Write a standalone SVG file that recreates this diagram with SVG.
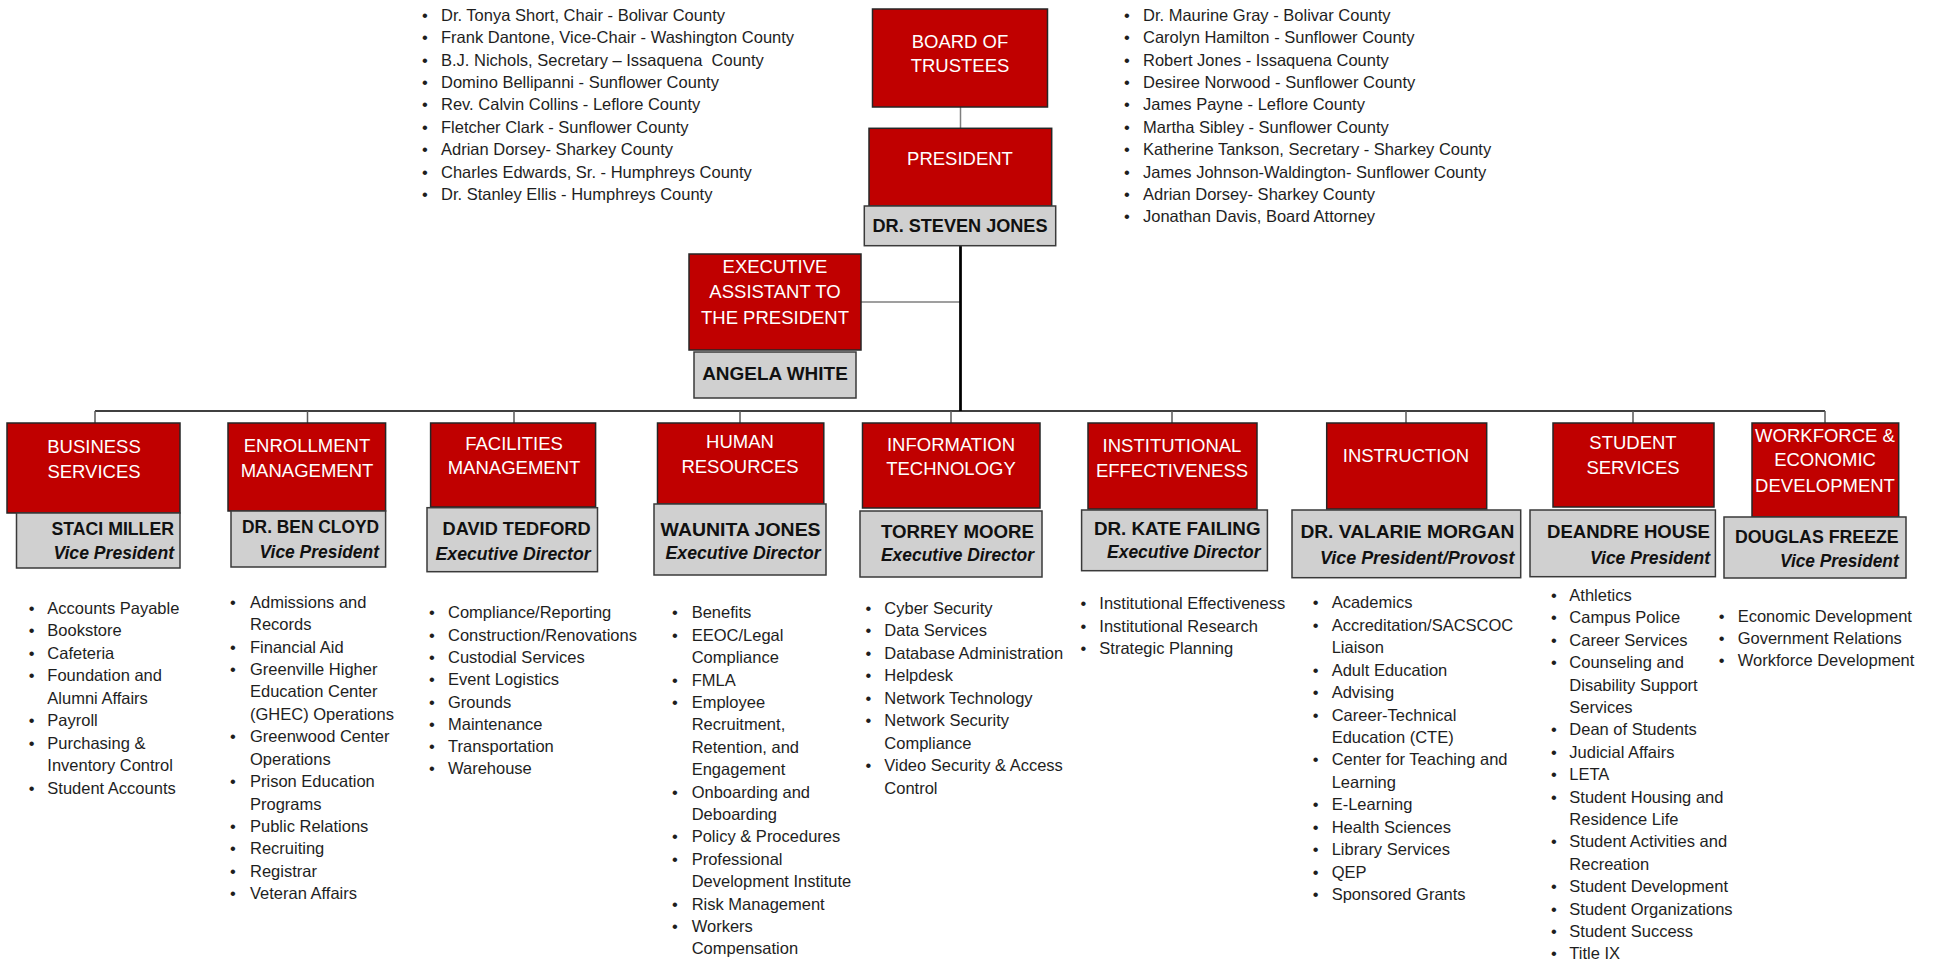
<svg xmlns="http://www.w3.org/2000/svg" width="1948" height="960" viewBox="0 0 1948 960">
<style>
.red{fill:#C00000;stroke:#262626;stroke-width:1.5}
.gray{fill:#D0D0D0;stroke:#3a3a3a;stroke-width:1.5}
.t{font-family:"Liberation Sans",Arial,sans-serif;font-size:18.5px;fill:#FFFFFF;text-anchor:middle}
.n{font-family:"Liberation Sans",Arial,sans-serif;font-size:18px;font-weight:bold;fill:#111111;text-anchor:end}
.nc{font-family:"Liberation Sans",Arial,sans-serif;font-size:18px;font-weight:bold;fill:#111111;text-anchor:middle}
.r{font-family:"Liberation Sans",Arial,sans-serif;font-size:17.5px;font-weight:bold;font-style:italic;fill:#111111;text-anchor:end}
.l{font-family:"Liberation Sans",Arial,sans-serif;font-size:16.5px;fill:#1e1e1e}
.b{font-family:"Liberation Sans",Arial,sans-serif;font-size:16.5px;fill:#1e1e1e;text-anchor:middle}
.c1{fill:none;stroke:#7f7f7f;stroke-width:1.5}
.c2{fill:none;stroke:#000000;stroke-width:2.75}
.c3{fill:none;stroke:#404040;stroke-width:2}
.c4{fill:none;stroke:#595959;stroke-width:1.5}
</style>
<rect width="1948" height="960" fill="#FFFFFF"/>
<g id="connectors">
<path class="c1" d="M960.5 107 V128.3"/>
<path class="c1" d="M861 302 H960.5"/>
<path class="c3" d="M95 411 H1825"/>
<path class="c2" d="M960.5 245.7 V411"/>
<path class="c4" d="M95 411 V423 M307.5 411 V423 M514 411 V423 M740 411 V423 M951 411 V423 M1172 411 V423 M1406 411 V423 M1633 411 V423 M1825 411 V423"/>
</g>
<g id="board-members-left">
<text class="b"><tspan x="425" y="21">•</tspan><tspan x="425" y="43.4">•</tspan><tspan x="425" y="65.7">•</tspan><tspan x="425" y="88">•</tspan><tspan x="425" y="110.4">•</tspan><tspan x="425" y="132.8">•</tspan><tspan x="425" y="155.1">•</tspan><tspan x="425" y="177.5">•</tspan><tspan x="425" y="199.8">•</tspan></text>
<text class="l"><tspan x="441" y="21">Dr. Tonya Short, Chair - Bolivar County</tspan><tspan x="441" y="43.4">Frank Dantone, Vice-Chair - Washington County</tspan><tspan x="441" y="65.7">B.J. Nichols, Secretary – Issaquena&#160; County</tspan><tspan x="441" y="88">Domino Bellipanni - Sunflower County</tspan><tspan x="441" y="110.4">Rev. Calvin Collins - Leflore County</tspan><tspan x="441" y="132.8">Fletcher Clark - Sunflower County</tspan><tspan x="441" y="155.1">Adrian Dorsey- Sharkey County</tspan><tspan x="441" y="177.5">Charles Edwards, Sr. - Humphreys County</tspan><tspan x="441" y="199.8">Dr. Stanley Ellis - Humphreys County</tspan></text>
</g>
<g id="board-members-right">
<text class="b"><tspan x="1127" y="21">•</tspan><tspan x="1127" y="43.4">•</tspan><tspan x="1127" y="65.7">•</tspan><tspan x="1127" y="88">•</tspan><tspan x="1127" y="110.4">•</tspan><tspan x="1127" y="132.8">•</tspan><tspan x="1127" y="155.1">•</tspan><tspan x="1127" y="177.5">•</tspan><tspan x="1127" y="199.8">•</tspan><tspan x="1127" y="222.2">•</tspan></text>
<text class="l"><tspan x="1143" y="21">Dr. Maurine Gray - Bolivar County</tspan><tspan x="1143" y="43.4">Carolyn Hamilton - Sunflower County</tspan><tspan x="1143" y="65.7">Robert Jones - Issaquena County</tspan><tspan x="1143" y="88">Desiree Norwood - Sunflower County</tspan><tspan x="1143" y="110.4">James Payne - Leflore County</tspan><tspan x="1143" y="132.8">Martha Sibley - Sunflower County</tspan><tspan x="1143" y="155.1">Katherine Tankson, Secretary - Sharkey County</tspan><tspan x="1143" y="177.5">James Johnson-Waldington- Sunflower County</tspan><tspan x="1143" y="199.8">Adrian Dorsey- Sharkey County</tspan><tspan x="1143" y="222.2">Jonathan Davis, Board Attorney</tspan></text>
</g>
<g id="board">
<rect class="red" x="872.5" y="9" width="175" height="98"/>
<text class="t" x="960" y="47.5">BOARD OF</text>
<text class="t" x="960" y="71.5">TRUSTEES</text>
</g>
<g id="president">
<rect class="red" x="869" y="128.3" width="182.7" height="77.7"/>
<text class="t" x="960" y="164.5">PRESIDENT</text>
<rect class="gray" x="864.3" y="206" width="191.4" height="39.7"/>
<text class="nc" x="960" y="231.8" textLength="175" lengthAdjust="spacingAndGlyphs">DR. STEVEN JONES</text>
</g>
<g id="executive-assistant">
<rect class="red" x="689" y="254" width="172" height="96"/>
<text class="t" x="775" y="273.2">EXECUTIVE</text>
<text class="t" x="775" y="298.2">ASSISTANT TO</text>
<text class="t" x="775" y="324.2">THE PRESIDENT</text>
<rect class="gray" x="694" y="352" width="162" height="46"/>
<text class="nc" x="775" y="379.8" textLength="145.6" lengthAdjust="spacingAndGlyphs">ANGELA WHITE</text>
</g>
<g id="business-services">
<rect class="red" x="7" y="423" width="173" height="90"/>
<text class="t" x="94" y="453">BUSINESS</text>
<text class="t" x="94" y="477.5">SERVICES</text>
<rect class="gray" x="16.5" y="513" width="163.5" height="55"/>
<text class="n" x="174" y="534.5" textLength="122.5" lengthAdjust="spacingAndGlyphs">STACI MILLER</text>
<text class="r" x="174" y="558.7" textLength="120.6" lengthAdjust="spacingAndGlyphs">Vice President</text>
<text class="b"><tspan x="31.7" y="613.7">•</tspan><tspan x="31.7" y="636.2">•</tspan><tspan x="31.7" y="658.7">•</tspan><tspan x="31.7" y="681.2">•</tspan><tspan x="31.7" y="726.2">•</tspan><tspan x="31.7" y="748.7">•</tspan><tspan x="31.7" y="793.7">•</tspan></text>
<text class="l"><tspan x="47.3" y="613.7">Accounts Payable</tspan><tspan x="47.3" y="636.2">Bookstore</tspan><tspan x="47.3" y="658.7">Cafeteria</tspan><tspan x="47.3" y="681.2">Foundation and</tspan><tspan x="47.3" y="703.7">Alumni Affairs</tspan><tspan x="47.3" y="726.2">Payroll</tspan><tspan x="47.3" y="748.7">Purchasing &amp;</tspan><tspan x="47.3" y="771.2">Inventory Control</tspan><tspan x="47.3" y="793.7">Student Accounts</tspan></text>
</g>
<g id="enrollment-management">
<rect class="red" x="228" y="423" width="157.6" height="88"/>
<text class="t" x="307" y="452.2">ENROLLMENT</text>
<text class="t" x="307" y="476.5">MANAGEMENT</text>
<rect class="gray" x="231" y="511" width="154.6" height="56"/>
<text class="n" x="379" y="533.2" textLength="136.9" lengthAdjust="spacingAndGlyphs">DR. BEN CLOYD</text>
<text class="r" x="379" y="557.9" textLength="119.4" lengthAdjust="spacingAndGlyphs">Vice President</text>
<text class="b"><tspan x="233" y="607.7">•</tspan><tspan x="233" y="652.6">•</tspan><tspan x="233" y="675">•</tspan><tspan x="233" y="742.3">•</tspan><tspan x="233" y="787.1">•</tspan><tspan x="233" y="832">•</tspan><tspan x="233" y="854.4">•</tspan><tspan x="233" y="876.9">•</tspan><tspan x="233" y="899.3">•</tspan></text>
<text class="l"><tspan x="250" y="607.7">Admissions and</tspan><tspan x="250" y="630.1">Records</tspan><tspan x="250" y="652.6">Financial Aid</tspan><tspan x="250" y="675">Greenville Higher</tspan><tspan x="250" y="697.4">Education Center</tspan><tspan x="250" y="719.9">(GHEC) Operations</tspan><tspan x="250" y="742.3">Greenwood Center</tspan><tspan x="250" y="764.7">Operations</tspan><tspan x="250" y="787.1">Prison Education</tspan><tspan x="250" y="809.6">Programs</tspan><tspan x="250" y="832">Public Relations</tspan><tspan x="250" y="854.4">Recruiting</tspan><tspan x="250" y="876.9">Registrar</tspan><tspan x="250" y="899.3">Veteran Affairs</tspan></text>
</g>
<g id="facilities-management">
<rect class="red" x="430.6" y="423" width="165" height="84"/>
<text class="t" x="514" y="449.5">FACILITIES</text>
<text class="t" x="514" y="473.5">MANAGEMENT</text>
<rect class="gray" x="427" y="507.7" width="170.5" height="64"/>
<text class="n" x="590.6" y="534.5" textLength="148" lengthAdjust="spacingAndGlyphs">DAVID TEDFORD</text>
<text class="r" x="590.6" y="560.2" textLength="155" lengthAdjust="spacingAndGlyphs">Executive Director</text>
<text class="b"><tspan x="432" y="618.3">•</tspan><tspan x="432" y="640.6">•</tspan><tspan x="432" y="662.9">•</tspan><tspan x="432" y="685.2">•</tspan><tspan x="432" y="707.5">•</tspan><tspan x="432" y="729.8">•</tspan><tspan x="432" y="752.1">•</tspan><tspan x="432" y="774.4">•</tspan></text>
<text class="l"><tspan x="448" y="618.3">Compliance/Reporting</tspan><tspan x="448" y="640.6">Construction/Renovations</tspan><tspan x="448" y="662.9">Custodial Services</tspan><tspan x="448" y="685.2">Event Logistics</tspan><tspan x="448" y="707.5">Grounds</tspan><tspan x="448" y="729.8">Maintenance</tspan><tspan x="448" y="752.1">Transportation</tspan><tspan x="448" y="774.4">Warehouse</tspan></text>
</g>
<g id="human-resources">
<rect class="red" x="657.5" y="423" width="166.3" height="81"/>
<text class="t" x="740" y="448.2">HUMAN</text>
<text class="t" x="740" y="472.5">RESOURCES</text>
<rect class="gray" x="654" y="504" width="172" height="71"/>
<text class="n" x="820.6" y="535.5" textLength="160" lengthAdjust="spacingAndGlyphs">WAUNITA JONES</text>
<text class="r" x="820.6" y="558.5" textLength="155" lengthAdjust="spacingAndGlyphs">Executive Director</text>
<text class="b"><tspan x="675" y="618.3">•</tspan><tspan x="675" y="640.7">•</tspan><tspan x="675" y="685.5">•</tspan><tspan x="675" y="707.9">•</tspan><tspan x="675" y="797.5">•</tspan><tspan x="675" y="842.3">•</tspan><tspan x="675" y="864.7">•</tspan><tspan x="675" y="909.5">•</tspan><tspan x="675" y="931.9">•</tspan></text>
<text class="l"><tspan x="691.7" y="618.3">Benefits</tspan><tspan x="691.7" y="640.7">EEOC/Legal</tspan><tspan x="691.7" y="663.1">Compliance</tspan><tspan x="691.7" y="685.5">FMLA</tspan><tspan x="691.7" y="707.9">Employee</tspan><tspan x="691.7" y="730.3">Recruitment,</tspan><tspan x="691.7" y="752.7">Retention, and</tspan><tspan x="691.7" y="775.1">Engagement</tspan><tspan x="691.7" y="797.5">Onboarding and</tspan><tspan x="691.7" y="819.9">Deboarding</tspan><tspan x="691.7" y="842.3">Policy &amp; Procedures</tspan><tspan x="691.7" y="864.7">Professional</tspan><tspan x="691.7" y="887.1">Development Institute</tspan><tspan x="691.7" y="909.5">Risk Management</tspan><tspan x="691.7" y="931.9">Workers</tspan><tspan x="691.7" y="954.3">Compensation</tspan></text>
</g>
<g id="information-technology">
<rect class="red" x="862.5" y="423" width="177.5" height="85"/>
<text class="t" x="951" y="450.5">INFORMATION</text>
<text class="t" x="951" y="474.5">TECHNOLOGY</text>
<rect class="gray" x="860" y="511" width="182" height="66"/>
<text class="n" x="1034" y="538.2" textLength="153" lengthAdjust="spacingAndGlyphs">TORREY MOORE</text>
<text class="r" x="1034" y="561.2" textLength="153" lengthAdjust="spacingAndGlyphs">Executive Director</text>
<text class="b"><tspan x="868.3" y="613.7">•</tspan><tspan x="868.3" y="636.2">•</tspan><tspan x="868.3" y="658.7">•</tspan><tspan x="868.3" y="681.2">•</tspan><tspan x="868.3" y="703.7">•</tspan><tspan x="868.3" y="726.2">•</tspan><tspan x="868.3" y="771.2">•</tspan></text>
<text class="l"><tspan x="884.3" y="613.7">Cyber Security</tspan><tspan x="884.3" y="636.2">Data Services</tspan><tspan x="884.3" y="658.7">Database Administration</tspan><tspan x="884.3" y="681.2">Helpdesk</tspan><tspan x="884.3" y="703.7">Network Technology</tspan><tspan x="884.3" y="726.2">Network Security</tspan><tspan x="884.3" y="748.7">Compliance</tspan><tspan x="884.3" y="771.2">Video Security &amp; Access</tspan><tspan x="884.3" y="793.7">Control</tspan></text>
</g>
<g id="institutional-effectiveness">
<rect class="red" x="1088" y="423" width="169" height="86"/>
<text class="t" x="1172" y="452.2">INSTITUTIONAL</text>
<text class="t" x="1172" y="476.5">EFFECTIVENESS</text>
<rect class="gray" x="1081.6" y="510" width="185.8" height="60.7"/>
<text class="n" x="1260.5" y="534.5" textLength="166.5" lengthAdjust="spacingAndGlyphs">DR. KATE FAILING</text>
<text class="r" x="1260.5" y="557.9" textLength="153.5" lengthAdjust="spacingAndGlyphs">Executive Director</text>
<text class="b"><tspan x="1083.3" y="609.3">•</tspan><tspan x="1083.3" y="631.8">•</tspan><tspan x="1083.3" y="654.3">•</tspan></text>
<text class="l"><tspan x="1099.3" y="609.3">Institutional Effectiveness</tspan><tspan x="1099.3" y="631.8">Institutional Research</tspan><tspan x="1099.3" y="654.3">Strategic Planning</tspan></text>
</g>
<g id="instruction">
<rect class="red" x="1326.7" y="423" width="160" height="86"/>
<text class="t" x="1406" y="462.2">INSTRUCTION</text>
<rect class="gray" x="1292" y="510" width="228.7" height="67.7"/>
<text class="n" x="1514.4" y="538.2" textLength="214" lengthAdjust="spacingAndGlyphs">DR. VALARIE MORGAN</text>
<text class="r" x="1514.4" y="564.2" textLength="194.4" lengthAdjust="spacingAndGlyphs">Vice President/Provost</text>
<text class="b"><tspan x="1315.7" y="608.3">•</tspan><tspan x="1315.7" y="630.7">•</tspan><tspan x="1315.7" y="675.6">•</tspan><tspan x="1315.7" y="698.1">•</tspan><tspan x="1315.7" y="720.5">•</tspan><tspan x="1315.7" y="765.4">•</tspan><tspan x="1315.7" y="810.3">•</tspan><tspan x="1315.7" y="832.7">•</tspan><tspan x="1315.7" y="855.1">•</tspan><tspan x="1315.7" y="877.6">•</tspan><tspan x="1315.7" y="900">•</tspan></text>
<text class="l"><tspan x="1331.7" y="608.3">Academics</tspan><tspan x="1331.7" y="630.7">Accreditation/SACSCOC</tspan><tspan x="1331.7" y="653.2">Liaison</tspan><tspan x="1331.7" y="675.6">Adult Education</tspan><tspan x="1331.7" y="698.1">Advising</tspan><tspan x="1331.7" y="720.5">Career-Technical</tspan><tspan x="1331.7" y="742.9">Education (CTE)</tspan><tspan x="1331.7" y="765.4">Center for Teaching and</tspan><tspan x="1331.7" y="787.8">Learning</tspan><tspan x="1331.7" y="810.3">E-Learning</tspan><tspan x="1331.7" y="832.7">Health Sciences</tspan><tspan x="1331.7" y="855.1">Library Services</tspan><tspan x="1331.7" y="877.6">QEP</tspan><tspan x="1331.7" y="900">Sponsored Grants</tspan></text>
</g>
<g id="student-services">
<rect class="red" x="1553" y="423" width="161" height="84"/>
<text class="t" x="1633" y="449.2">STUDENT</text>
<text class="t" x="1633" y="473.5">SERVICES</text>
<rect class="gray" x="1530" y="510" width="185.4" height="66.7"/>
<text class="n" x="1710" y="538.2" textLength="163" lengthAdjust="spacingAndGlyphs">DEANDRE HOUSE</text>
<text class="r" x="1710" y="564.2" textLength="120" lengthAdjust="spacingAndGlyphs">Vice President</text>
<text class="b"><tspan x="1554" y="601">•</tspan><tspan x="1554" y="623.4">•</tspan><tspan x="1554" y="645.8">•</tspan><tspan x="1554" y="668.2">•</tspan><tspan x="1554" y="735.4">•</tspan><tspan x="1554" y="757.8">•</tspan><tspan x="1554" y="780.2">•</tspan><tspan x="1554" y="802.6">•</tspan><tspan x="1554" y="847.4">•</tspan><tspan x="1554" y="892.2">•</tspan><tspan x="1554" y="914.6">•</tspan><tspan x="1554" y="937">•</tspan><tspan x="1554" y="959">•</tspan></text>
<text class="l"><tspan x="1569.3" y="601">Athletics</tspan><tspan x="1569.3" y="623.4">Campus Police</tspan><tspan x="1569.3" y="645.8">Career Services</tspan><tspan x="1569.3" y="668.2">Counseling and</tspan><tspan x="1569.3" y="690.6">Disability Support</tspan><tspan x="1569.3" y="713">Services</tspan><tspan x="1569.3" y="735.4">Dean of Students</tspan><tspan x="1569.3" y="757.8">Judicial Affairs</tspan><tspan x="1569.3" y="780.2">LETA</tspan><tspan x="1569.3" y="802.6">Student Housing and</tspan><tspan x="1569.3" y="825">Residence Life</tspan><tspan x="1569.3" y="847.4">Student Activities and</tspan><tspan x="1569.3" y="869.8">Recreation</tspan><tspan x="1569.3" y="892.2">Student Development</tspan><tspan x="1569.3" y="914.6">Student Organizations</tspan><tspan x="1569.3" y="937">Student Success</tspan><tspan x="1569.3" y="959">Title IX</tspan></text>
</g>
<g id="workforce-economic-development">
<rect class="red" x="1752" y="423" width="146.7" height="94"/>
<text class="t" x="1825" y="441.5">WORKFORCE &amp;</text>
<text class="t" x="1825" y="465.5">ECONOMIC</text>
<text class="t" x="1825" y="491.5">DEVELOPMENT</text>
<rect class="gray" x="1724" y="517" width="182" height="61"/>
<text class="n" x="1898.7" y="542.5" textLength="163.7" lengthAdjust="spacingAndGlyphs">DOUGLAS FREEZE</text>
<text class="r" x="1898.7" y="567.2" textLength="118.7" lengthAdjust="spacingAndGlyphs">Vice President</text>
<text class="b"><tspan x="1721.7" y="621.7">•</tspan><tspan x="1721.7" y="643.9">•</tspan><tspan x="1721.7" y="666.1">•</tspan></text>
<text class="l"><tspan x="1737.7" y="621.7">Economic Development</tspan><tspan x="1737.7" y="643.9">Government Relations</tspan><tspan x="1737.7" y="666.1">Workforce Development</tspan></text>
</g>
</svg>
